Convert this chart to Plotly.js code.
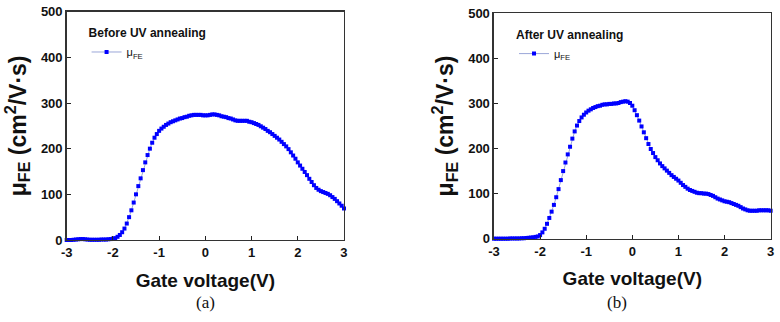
<!DOCTYPE html>
<html>
<head>
<meta charset="utf-8">
<script src="https://cdn.plot.ly/plotly-3.0.1.min.js"></script>
<style>
  html, body { margin: 0; padding: 0; background: #fff; }
  #chart { width: 780px; height: 322px; }
</style>
</head>
<body>
<div id="chart"></div>
<script>
// Gate voltage sweep (V), 0.05 V step
const gateVoltage = [];
for (let i = 0; i <= 120; i++) gateVoltage.push(Math.round((-3 + i * 0.05) * 100) / 100);

// Field-effect mobility before UV annealing, cm²/V·s
const mobilityBefore = [
  0, 0, 0, 0.5, 1, 1.5, 2, 2, 1.5, 1, 0.5, 0.5, 0.5, 0.5, 0.5, 1, 1, 1, 1.5, 2,
  3, 4, 7, 11, 17, 25, 36, 50, 65, 82, 100, 118, 135, 153, 170, 186, 200, 213, 224, 232,
  239, 244, 248, 252, 255, 258, 260, 262, 264, 266, 267, 269, 270, 272, 273, 274, 274, 274, 274, 273,
  273, 273, 274, 275, 275, 274, 273, 271, 270, 269, 267, 266, 264, 262, 261, 261, 261, 261, 261, 259,
  258, 256, 254, 252, 249, 246, 243, 239, 236, 232, 228, 224, 220, 215, 210, 205, 199, 192, 185, 178,
  170, 163, 156, 149, 142, 134, 127, 120, 114, 110, 107, 105, 103, 101, 98, 94, 90, 85, 80, 75,
  69
];

// Field-effect mobility after UV annealing, cm²/V·s
const mobilityAfter = [
  0, 0, 0, 0, 0, 0, 0, 0.5, 0.5, 0.5, 0.5, 0.5, 1, 1, 1.5, 2, 2.5, 3, 4, 5,
  8, 14, 22, 33, 46, 60, 75, 92, 110, 130, 150, 169, 187, 204, 222, 238, 251, 261, 269, 275,
  280, 284, 287, 290, 292, 294, 295, 297, 298, 298, 299, 299, 300, 300, 301, 303, 304, 305, 304, 301,
  295, 285, 274, 262, 249, 236, 223, 210, 199, 190, 181, 174, 167, 161, 156, 151, 146, 141, 137, 133,
  129, 124, 119, 115, 111, 108, 106, 104, 102, 101, 101, 100, 100, 99, 97, 95, 92, 89, 87, 85,
  83, 82, 81, 79, 77, 75, 73, 70, 67, 65, 63, 62, 62, 62, 62, 63, 63, 63, 63, 63,
  62
];

const xTicks = [-3, -2, -1, 0, 1, 2, 3];
const yTicks = [0, 100, 200, 300, 400, 500];
const panelTitles = ['Before UV annealing', 'After UV annealing'];
const panelLabels = ['(a)', '(b)'];
const seriesName = 'μ<sub>FE</sub>';
const xTitle = 'Gate voltage(V)';
const yTitle = 'μ<sub>FE</sub> (cm<sup>2</sup>/V·s)';

const FONT = 'Arial, "Liberation Sans", sans-serif';
const SERIF = '"Liberation Serif", "DejaVu Serif", serif';
const BLUE = '#0000ff';

function trace(y, xa, ya, leg) {
  return {
    x: gateVoltage, y: y, xaxis: xa, yaxis: ya, legend: leg,
    type: 'scatter', mode: 'lines+markers', name: seriesName,
    line: { color: '#9aa6d8', width: 1 },
    marker: { symbol: 'square', size: 4, color: BLUE, line: { width: 0 } },
    showlegend: true, cliponaxis: false
  };
}

function xAxis(domain, anchor) {
  return {
    domain: domain, anchor: anchor, range: [-3, 3],
    tickmode: 'array', tickvals: xTicks, ticktext: xTicks.map(String),
    ticks: 'inside', ticklen: 4, tickwidth: 1, tickcolor: '#222',
    showline: true, mirror: true, linecolor: '#333', linewidth: 1.5,
    showgrid: false, zeroline: false,
    tickfont: { family: FONT, size: 13, color: '#111', weight: 'bold' },
    title: { text: xTitle, standoff: 14, font: { family: FONT, size: 19, color: '#111', weight: 'bold' } }
  };
}

function yAxis(domain, anchor) {
  return {
    domain: domain, anchor: anchor, range: [0, 500],
    tickmode: 'array', tickvals: yTicks, ticktext: yTicks.map(String),
    ticks: 'inside', ticklen: 4, tickwidth: 1, tickcolor: '#222',
    showline: true, mirror: true, linecolor: '#333', linewidth: 1.5,
    showgrid: false, zeroline: false,
    tickfont: { family: FONT, size: 13, color: '#111', weight: 'bold' },
    title: { text: yTitle, standoff: 8, font: { family: FONT, size: 23, color: '#111', weight: 'bold' } }
  };
}

function legendBox(x, y, title) {
  return {
    x: x, y: y, xref: 'paper', yref: 'paper', xanchor: 'left', yanchor: 'top',
    bgcolor: 'rgba(0,0,0,0)', borderwidth: 0,
    title: { text: title, side: 'top', font: { family: FONT, size: 12, color: '#111', weight: 'bold' } },
    font: { family: FONT, size: 11, color: '#111' },
    itemwidth: 30, tracegroupgap: 0
  };
}

function panelLabel(text, xPx) {
  return {
    text: text, x: xPx / 780, y: 1 - 302 / 322, xref: 'paper', yref: 'paper',
    xanchor: 'center', yanchor: 'middle', showarrow: false,
    font: { family: SERIF, size: 17, color: '#111' }
  };
}

const data = [
  trace(mobilityBefore, 'x', 'y', 'legend'),
  trace(mobilityAfter, 'x2', 'y2', 'legend2')
];

const layout = {
  width: 780, height: 322,
  margin: { l: 0, r: 0, t: 0, b: 0 },
  paper_bgcolor: '#fff', plot_bgcolor: '#fff',
  showlegend: true,
  xaxis: xAxis([0.0855, 0.441], 'y'),
  yaxis: yAxis([0.2547, 0.9637], 'x'),
  xaxis2: xAxis([0.6333, 0.988], 'y2'),
  yaxis2: yAxis([0.2587, 0.9587], 'x2'),
  legend: legendBox(0.111, 0.932, panelTitles[0]),
  legend2: legendBox(0.659, 0.927, panelTitles[1]),
  annotations: [panelLabel(panelLabels[0], 205), panelLabel(panelLabels[1], 617)]
};

Plotly.newPlot('chart', data, layout, { displayModeBar: false, staticPlot: true });
</script>
</body>
</html>
